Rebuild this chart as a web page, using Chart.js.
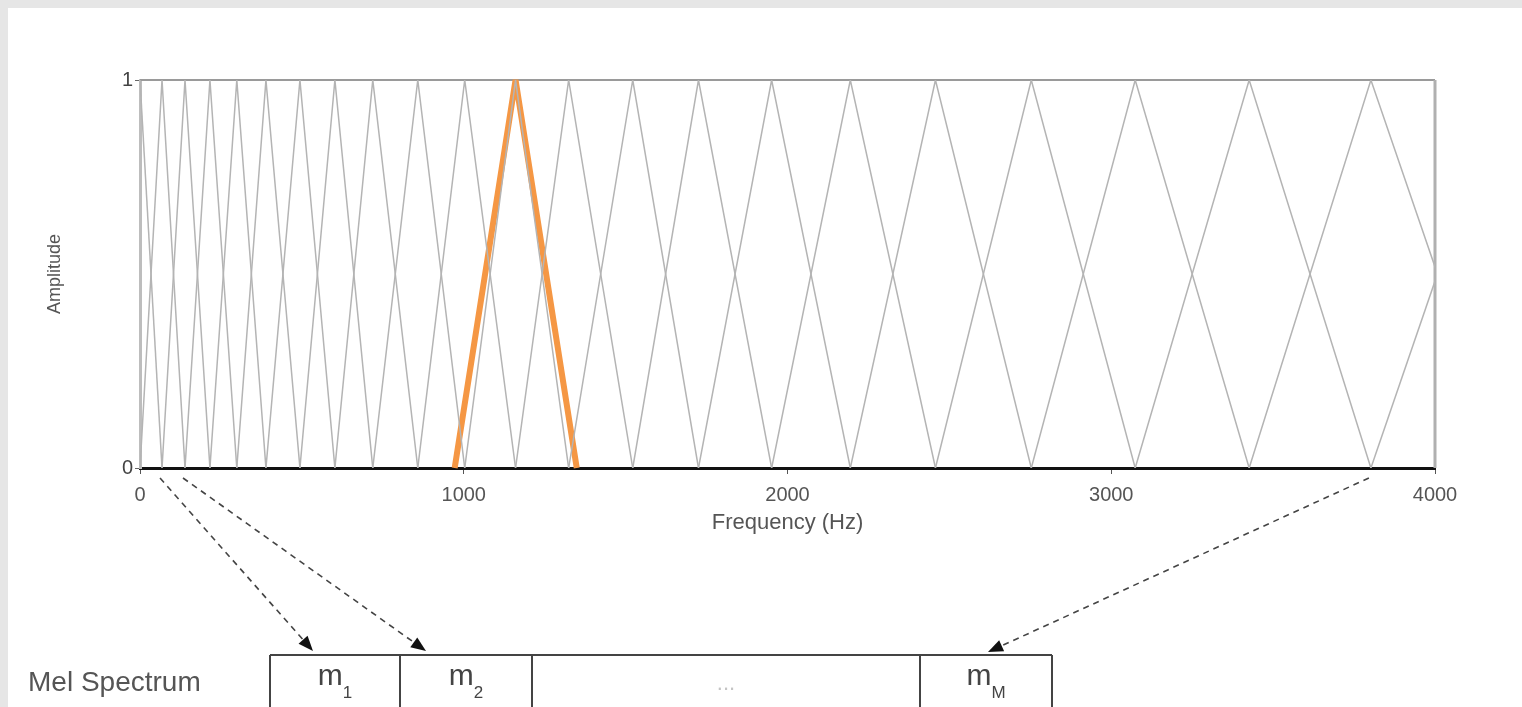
<!DOCTYPE html>
<html>
<head>
<meta charset="utf-8">
<script src="https://cdn.jsdelivr.net/npm/chart.js@4"></script>
<style>
  html, body { margin: 0; padding: 0; background: #fff; overflow: hidden; }
  canvas { display: block; }
</style>
</head>
<body>
<canvas id="grafico" width="1522" height="707"></canvas>
<script>
// frequencias centrais (pico) de cada filtro triangular, em Hz
const centrosHz = [0, 68, 139, 216, 299, 389, 494, 602, 719, 858, 1003, 1160, 1324, 1522, 1725, 1951, 2194, 2457, 2753, 3074, 3426, 3802, 4213];
// filtro destacado (laranja)
const destaqueHz = [972, 1160, 1349];
const destaqueAmp = [0, 1, 0];
const ticksX = [0, 1000, 2000, 3000, 4000];
const ticksY = [0, 1];
// celulas do espectro mel: base + indice
const melBase = ['m', 'm', '...', 'm'];
const melIndice = ['1', '2', '', 'M'];
// setas: filtro de origem -> celula de destino
const setaFiltro = [1, 2, 21];
const setaCelula = [0, 1, 3];

const FONTE = "'Liberation Sans', Arial, sans-serif";

// layout do diagrama de baixo (pixels)
const caixaTopo = 655;
const caixaBordas = [270, 400, 532, 920, 1052];
const pontaSeta = [[313, 651], [426, 651], [988, 652]];

const filtros = [];
for (let k = 0; k < centrosHz.length; k++) {
  const pts = [];
  if (k > 0) pts.push({ x: centrosHz[k - 1], y: 0 });
  pts.push({ x: centrosHz[k], y: 1 });
  if (k < centrosHz.length - 1) pts.push({ x: centrosHz[k + 1], y: 0 });
  filtros.push({
    data: pts,
    borderColor: '#b4b4b4',
    borderWidth: 1.5,
    pointRadius: 0,
    fill: false,
    tension: 0
  });
}

filtros.push({
  data: destaqueHz.map((x, i) => ({ x, y: destaqueAmp[i] })),
  borderColor: '#f59744',
  borderWidth: 6,
  borderJoinStyle: 'bevel',
  pointRadius: 0,
  fill: false,
  clip: false
});

function seta(ctx, x0, y0, x1, y1) {
  const ang = Math.atan2(y1 - y0, x1 - x0);
  const cab = 15, larg = 6;
  const bx = x1 - cab * Math.cos(ang), by = y1 - cab * Math.sin(ang);
  ctx.save();
  ctx.strokeStyle = '#444';
  ctx.lineWidth = 1.6;
  ctx.setLineDash([6, 5]);
  ctx.beginPath();
  ctx.moveTo(x0, y0);
  ctx.lineTo(bx, by);
  ctx.stroke();
  ctx.setLineDash([]);
  ctx.fillStyle = '#111';
  ctx.beginPath();
  ctx.moveTo(x1, y1);
  ctx.lineTo(bx + larg * Math.sin(ang), by - larg * Math.cos(ang));
  ctx.lineTo(bx - larg * Math.sin(ang), by + larg * Math.cos(ang));
  ctx.closePath();
  ctx.fill();
  ctx.restore();
}

const moldura = {
  id: 'moldura',
  beforeDraw(chart) {
    const ctx = chart.ctx;
    ctx.save();
    ctx.fillStyle = '#e6e6e6';
    ctx.fillRect(0, 0, chart.width, chart.height);
    ctx.fillStyle = '#ffffff';
    ctx.fillRect(8, 8, chart.width - 8, chart.height - 8);
    ctx.restore();
  },
  beforeDatasetsDraw(chart) {
    const { ctx, chartArea: a } = chart;
    ctx.save();
    ctx.strokeStyle = '#9a9a9a';
    ctx.lineWidth = 2;
    ctx.beginPath();
    ctx.moveTo(a.left, a.top);
    ctx.lineTo(a.right, a.top);
    ctx.stroke();
    ctx.strokeStyle = '#b0b0b0';
    ctx.lineWidth = 3;
    ctx.beginPath();
    ctx.moveTo(a.right, a.top);
    ctx.lineTo(a.right, a.bottom);
    ctx.stroke();
    ctx.restore();
  },
  afterDraw(chart) {
    const { ctx, chartArea: a } = chart;
    const sx = chart.scales.x;

    // setas tracejadas
    setaFiltro.forEach((f, i) => {
      const x0 = sx.getPixelForValue(centrosHz[f]) - 2;
      seta(ctx, x0, a.bottom + 10, pontaSeta[i][0], pontaSeta[i][1]);
    });

    // caixa do espectro mel
    ctx.save();
    ctx.strokeStyle = '#444';
    ctx.lineWidth = 2;
    ctx.beginPath();
    ctx.moveTo(caixaBordas[0], caixaTopo);
    ctx.lineTo(caixaBordas[caixaBordas.length - 1], caixaTopo);
    caixaBordas.forEach(x => {
      ctx.moveTo(x, caixaTopo);
      ctx.lineTo(x, chart.height + 5);
    });
    ctx.stroke();

    ctx.fillStyle = '#555';
    ctx.font = '28px ' + FONTE;
    ctx.textAlign = 'left';
    ctx.textBaseline = 'alphabetic';
    ctx.fillText('Mel Spectrum', 28, 691);

    melBase.forEach((b, i) => {
      const cx = (caixaBordas[i] + caixaBordas[i + 1]) / 2;
      if (b === '...') {
        ctx.fillStyle = '#c4c4c4';
        ctx.font = '22px ' + FONTE;
        ctx.textAlign = 'center';
        ctx.fillText('...', cx, 690);
        return;
      }
      ctx.fillStyle = '#444';
      ctx.font = '30px ' + FONTE;
      const wb = ctx.measureText(b).width;
      ctx.font = '17px ' + FONTE;
      const wi = ctx.measureText(melIndice[i]).width;
      const x0 = cx - (wb + wi) / 2;
      ctx.textAlign = 'left';
      ctx.font = '30px ' + FONTE;
      ctx.fillText(b, x0, 685);
      ctx.font = '17px ' + FONTE;
      ctx.fillText(melIndice[i], x0 + wb, 698);
    });
    ctx.restore();
  }
};

new Chart(document.getElementById('grafico').getContext('2d'), {
  type: 'line',
  data: { datasets: filtros },
  options: {
    responsive: false,
    animation: false,
    events: [],
    layout: { padding: { left: 40, right: 87, top: 80, bottom: 169 } },
    plugins: { legend: { display: false }, tooltip: { enabled: false } },
    scales: {
      x: {
        type: 'linear',
        min: 0,
        max: 4000,
        afterBuildTicks: s => { s.ticks = ticksX.map(v => ({ value: v })); },
        afterFit: s => { s.height = 70; },
        grid: { drawOnChartArea: false, drawTicks: true, tickLength: 6, color: '#555' },
        border: { color: '#111', width: 3 },
        ticks: {
          padding: 9,
          maxRotation: 0,
          color: '#555',
          font: { family: FONTE, size: 20 },
          callback: v => String(v)
        },
        title: {
          display: true,
          text: 'Frequency (Hz)',
          color: '#555',
          padding: { top: 0, bottom: 2 },
          font: { family: FONTE, size: 22 }
        }
      },
      y: {
        min: 0,
        max: 1,
        afterBuildTicks: s => { s.ticks = ticksY.map(v => ({ value: v })); },
        afterFit: s => { s.width = 100; },
        grid: { drawOnChartArea: false, drawTicks: true, tickLength: 5, color: '#666' },
        border: { color: '#bdbdbd', width: 3 },
        ticks: {
          padding: 2,
          color: '#444',
          font: { family: FONTE, size: 20 },
          callback: v => String(v)
        },
        title: {
          display: true,
          text: 'Amplitude',
          color: '#555',
          padding: { top: 4, bottom: 0 },
          font: { family: FONTE, size: 18 }
        }
      }
    }
  },
  plugins: [moldura]
});
</script>
</body>
</html>
